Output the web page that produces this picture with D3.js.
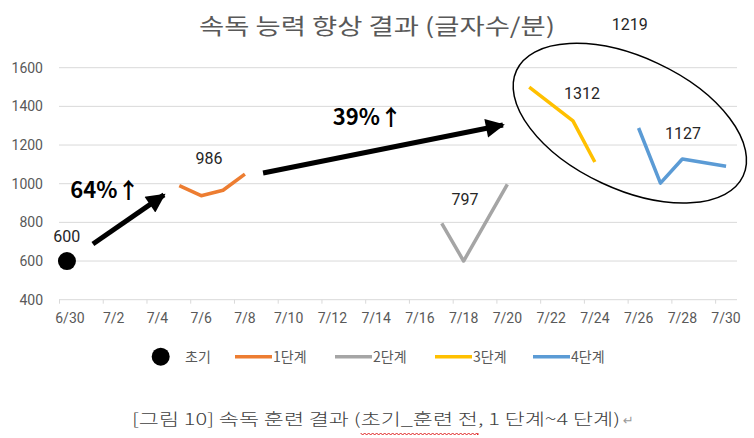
<!DOCTYPE html>
<html>
<head>
<meta charset="utf-8">
<script src="https://cdn.jsdelivr.net/npm/d3@7"></script>
<style>
  html, body { margin: 0; padding: 0; background: #fff; }
  svg { display: block; }
</style>
</head>
<body>
<svg id="chart" width="754" height="438"></svg>
<script>
// ---------------- DATA ----------------
const title = "속독 능력 향상 결과 (글자수/분)";
const caption = "[그림 10] 속독 훈련 결과 (초기_훈련 전, 1 단계~4 단계)";
const yTicks = [400, 600, 800, 1000, 1200, 1400, 1600];
const xTickLabels = ["6/30","7/2","7/4","7/6","7/8","7/10","7/12","7/14","7/16","7/18","7/20","7/22","7/24","7/26","7/28","7/30"];

const initialDates = ["6/30"];
const initialValues = [600];
const stage1Dates = ["7/5","7/6","7/7","7/8"];
const stage1Values = [990, 938, 966, 1050];
const stage2Dates = ["7/17","7/18","7/20"];
const stage2Values = [795, 600, 996];
const stage3Dates = ["7/21","7/23","7/24"];
const stage3Values = [1500, 1325, 1112];
const stage4Dates = ["7/26","7/27","7/28","7/30"];
const stage4Values = [1288, 1003, 1128, 1090];

const seriesNames = ["1단계","2단계","3단계","4단계"];
const seriesColors = ["#ED7D31","#A5A5A5","#FFC000","#5B9BD5"];

// value labels: [text, day offset from 6/30, value]
const labelTexts = ["600","986","797","1312","1127","1219"];
const labelDays  = [-0.15, 6.36, 18.06, 23.41, 28.03, 25.6];
const labelVals  = [729, 1133, 921, 1469, 1262, 1826];

// growth annotations
const growthTexts = ["64%↑","39%↑"];
const growthDays = [1.6, 13.6];
const growthVals = [968, 1345];
const arrowFromDays = [1.05, 8.83];
const arrowFromVals = [688, 1055];
const arrowToDays = [4.3, 19.8];
const arrowToVals = [942, 1304];

// ellipse around stage 3 & 4
const ellipseDay = 25.6, ellipseVal = 1313;

// ---------------- CHART ----------------
const svg = d3.select("#chart");
svg.append("rect").attr("width", 754).attr("height", 438).attr("fill", "#fff");

const dayOf = s => { const [m, d] = s.split("/").map(Number); return m === 6 ? d - 30 : d; };

const x = d3.scaleLinear().domain([0, 31]).range([59, 737]);
const xc = d => x(d + 0.5);            // center of the day
const y = d3.scaleLinear().domain([400, 1600]).range([299.7, 67.7]);

const fontLatin = "Roboto, 'Noto Sans', 'DejaVu Sans', sans-serif";
const fontKR = "'Noto Sans CJK KR', 'Noto Sans', sans-serif";

// gridlines
svg.append("g").selectAll("line").data(yTicks.slice(1)).join("line")
  .attr("x1", x(0)).attr("x2", x(31))
  .attr("y1", d => y(d)).attr("y2", d => y(d))
  .attr("stroke", "#d9d9d9").attr("stroke-width", 1);

// y axis labels
const yAxis = d3.axisLeft(y).tickValues(yTicks).tickSize(0).tickPadding(16).tickFormat(d3.format("d"));
const gy = svg.append("g").attr("transform", `translate(${x(0)},0)`).call(yAxis);
gy.select(".domain").remove();
gy.selectAll("text").attr("font-family", fontLatin).attr("font-size", 14).attr("fill", "#595959");

// x axis
const xTickDays = xTickLabels.map(dayOf);
const xAxis = d3.axisBottom(x).tickValues(xTickDays).tickSize(4).tickFormat(() => "");
const gx = svg.append("g").attr("transform", `translate(0,${y(400)})`).call(xAxis);
gx.select(".domain").attr("stroke", "#d9d9d9").attr("d", `M${x(0)},0H${x(31)}`);
gx.selectAll(".tick line").attr("stroke", "#d9d9d9");
svg.append("g").selectAll("text").data(xTickLabels).join("text")
  .attr("x", d => xc(dayOf(d))).attr("y", y(400) + 23)
  .attr("text-anchor", "middle")
  .attr("font-family", fontLatin).attr("font-size", 14).attr("fill", "#595959")
  .text(d => d);

// series lines
const stages = [
  [stage1Dates, stage1Values],
  [stage2Dates, stage2Values],
  [stage3Dates, stage3Values],
  [stage4Dates, stage4Values]
];
const line = d3.line().x(d => xc(dayOf(d[0]))).y(d => y(d[1]));
stages.forEach(([ds, vs], i) => {
  svg.append("path")
    .datum(ds.map((d, j) => [d, vs[j]]))
    .attr("d", line)
    .attr("fill", "none")
    .attr("stroke", seriesColors[i])
    .attr("stroke-width", 3.5)
    .attr("stroke-linejoin", "round");
});

// initial marker
svg.append("g").selectAll("circle").data(initialDates.map((d, j) => [d, initialValues[j]])).join("circle")
  .attr("cx", d => xc(dayOf(d[0])) - 3).attr("cy", d => y(d[1]))
  .attr("r", 9).attr("fill", "#000");

// value labels
svg.append("g").selectAll("text").data(labelTexts).join("text")
  .attr("x", (d, i) => xc(labelDays[i])).attr("y", (d, i) => y(labelVals[i]))
  .attr("dy", "0.35em")
  .attr("text-anchor", "middle")
  .attr("font-family", fontLatin).attr("font-size", 16).attr("fill", "#262626")
  .text(d => d);

// arrows
const defs = svg.append("defs");
defs.append("marker").attr("id", "ah")
  .attr("viewBox", "0 0 10 10").attr("refX", 9).attr("refY", 5)
  .attr("markerWidth", 4.2).attr("markerHeight", 3.8)
  .attr("markerUnits", "strokeWidth")
  .attr("orient", "auto")
  .append("path").attr("d", "M0,0L10,5L0,10Z").attr("fill", "#000");

growthTexts.forEach((t, i) => {
  svg.append("line")
    .attr("x1", xc(arrowFromDays[i])).attr("y1", y(arrowFromVals[i]))
    .attr("x2", xc(arrowToDays[i])).attr("y2", y(arrowToVals[i]))
    .attr("stroke", "#000").attr("stroke-width", 5)
    .attr("marker-end", "url(#ah)");
});
svg.append("g").selectAll("text").data(growthTexts).join("text")
  .attr("x", (d, i) => xc(growthDays[i])).attr("y", (d, i) => y(growthVals[i]))
  .attr("dy", "0.36em").attr("text-anchor", "middle")
  .attr("font-family", fontKR).attr("font-weight", "bold").attr("font-size", 22).attr("fill", "#000")
  .text(d => d);

// ellipse
svg.append("ellipse")
  .attr("transform", `translate(${xc(ellipseDay)},${y(ellipseVal)}) rotate(25)`)
  .attr("rx", 125).attr("ry", 66)
  .attr("fill", "none").attr("stroke", "#000").attr("stroke-width", 1.5);

// title
svg.append("text")
  .attr("x", 377).attr("y", 34).attr("text-anchor", "middle")
  .attr("font-family", fontKR).attr("font-size", 22).attr("fill", "#595959")
  .attr("textLength", 356).attr("lengthAdjust", "spacingAndGlyphs")
  .text(title);

// legend
const lg = svg.append("g");
const legY = 356.7;
lg.append("circle").attr("cx", 160.7).attr("cy", legY).attr("r", 9).attr("fill", "#000");
lg.append("text").attr("x", 185).attr("y", legY).attr("dy", "0.35em")
  .attr("font-family", fontKR).attr("font-size", 14).attr("fill", "#595959").text("초기");
const legX = [235, 335, 435, 533];
seriesNames.forEach((n, i) => {
  lg.append("line").attr("x1", legX[i]).attr("x2", legX[i] + 37)
    .attr("y1", legY).attr("y2", legY)
    .attr("stroke", seriesColors[i]).attr("stroke-width", 3.5);
  lg.append("text").attr("x", legX[i] + 38).attr("y", legY).attr("dy", "0.35em")
    .attr("font-family", fontKR).attr("font-size", 14).attr("fill", "#595959").text(n);
});

// caption
const cap = svg.append("text")
  .attr("x", 132).attr("y", 425)
  .attr("font-family", fontKR).attr("font-weight", 300).attr("font-size", 16).attr("fill", "#404040")
  .attr("textLength", 488).attr("lengthAdjust", "spacingAndGlyphs")
  .text(caption);
const capNode = cap.node();
const s0 = caption.indexOf("초기");
const s1 = caption.indexOf("전,");
let ux0 = 348, ux1 = 432;
try {
  ux0 = capNode.getStartPositionOfChar(s0).x;
  ux1 = capNode.getEndPositionOfChar(s1).x;
} catch (e) {}
const capEnd = 132 + 488;
svg.append("text").attr("x", capEnd + 3).attr("y", 425)
  .attr("font-family", "'DejaVu Sans', sans-serif").attr("font-size", 13).attr("fill", "#9a9a9a").text("↵");
// wavy spell-check underline
let wave = `M${ux0},433`;
for (let xx = ux0; xx < ux1; xx += 4) {
  wave += `L${Math.min(xx + 2, ux1)},435L${Math.min(xx + 4, ux1)},433`;
}
svg.append("path").attr("d", wave).attr("fill", "none").attr("stroke", "#e02020").attr("stroke-width", 1);
</script>
</body>
</html>
